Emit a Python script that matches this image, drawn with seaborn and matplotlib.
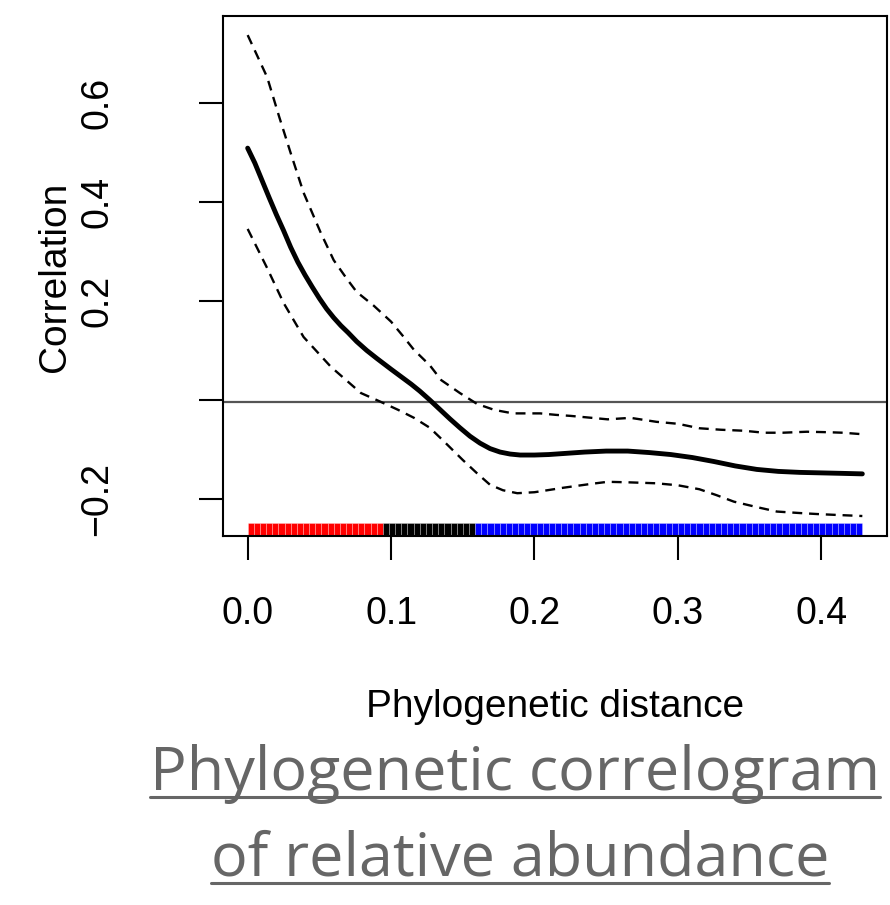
import numpy as np
import pandas as pd
import matplotlib
matplotlib.use("Agg")
import matplotlib.pyplot as plt
from matplotlib.lines import Line2D
import seaborn as sns

# ---------------- data ----------------
mean_x = [0, 0.005, 0.01, 0.015, 0.02, 0.025, 0.03, 0.035, 0.04, 0.045,
          0.05, 0.055, 0.06, 0.065, 0.07, 0.076, 0.083, 0.09, 0.1, 0.107,
          0.114, 0.12, 0.127, 0.134, 0.141, 0.148, 0.155, 0.162, 0.169, 0.176,
          0.183, 0.19, 0.2, 0.21, 0.22, 0.235, 0.25, 0.265, 0.28, 0.295,
          0.31, 0.325, 0.34, 0.355, 0.37, 0.385, 0.4, 0.415, 0.4286]
mean_y = [0.508, 0.478, 0.443, 0.408, 0.374, 0.342, 0.308, 0.278, 0.252, 0.228,
          0.205, 0.184, 0.166, 0.150, 0.136, 0.118, 0.100, 0.084, 0.062, 0.047,
          0.032, 0.018, 0.0, -0.019, -0.038, -0.056, -0.073, -0.087, -0.098, -0.105,
          -0.109, -0.111, -0.111, -0.110, -0.108, -0.105, -0.103, -0.103, -0.106, -0.110,
          -0.116, -0.124, -0.133, -0.140, -0.144, -0.146, -0.147, -0.148, -0.149]

upper_x = [0, 0.0136, 0.022, 0.030, 0.039, 0.051, 0.060, 0.069, 0.076, 0.088,
           0.100, 0.108, 0.116, 0.127, 0.135, 0.148, 0.160, 0.172, 0.185, 0.204,
           0.215, 0.225, 0.240, 0.251, 0.267, 0.285, 0.300, 0.315, 0.330, 0.346,
           0.360, 0.373, 0.390, 0.405, 0.415, 0.4286]
upper_y = [0.736, 0.651, 0.571, 0.498, 0.418, 0.337, 0.282, 0.245, 0.218, 0.19,
           0.158, 0.13, 0.101, 0.07, 0.04, 0.014, -0.008, -0.02, -0.027, -0.027,
           -0.030, -0.032, -0.036, -0.039, -0.036, -0.044, -0.048, -0.057, -0.060, -0.062,
           -0.066, -0.066, -0.064, -0.065, -0.066, -0.069]

lower_x = [0, 0.0136, 0.025, 0.039, 0.058, 0.079, 0.093, 0.105, 0.116, 0.127,
           0.136, 0.150, 0.160, 0.169, 0.178, 0.188, 0.200, 0.209, 0.220, 0.230,
           0.240, 0.251, 0.265, 0.285, 0.300, 0.315, 0.327, 0.339, 0.355, 0.369,
           0.385, 0.397, 0.412, 0.4286]
lower_y = [0.345, 0.266, 0.196, 0.127, 0.067, 0.014, -0.004, -0.02, -0.036, -0.056,
           -0.081, -0.121, -0.148, -0.171, -0.182, -0.188, -0.186, -0.182, -0.177, -0.173,
           -0.169, -0.165, -0.166, -0.168, -0.172, -0.180, -0.192, -0.205, -0.216, -0.225,
           -0.228, -0.230, -0.232, -0.234]

# significance classes along the distance axis (rug)
sig_breaks = [0.0, 0.0948, 0.1596, 0.4286]
sig_colors = ["#FF0000", "#000000", "#0000FF"]
n_rug_cells = 100

x_ticks = [0.0, 0.1, 0.2, 0.3, 0.4]
x_tick_labels = ["0.0", "0.1", "0.2", "0.3", "0.4"]
y_ticks = [-0.2, 0.0, 0.2, 0.4, 0.6]
y_tick_labels = ["\u22120.2", "", "0.2", "0.4", "0.6"]

x_label = "Phylogenetic distance"
y_label = "Correlation"
title_lines = ["Phylogenetic correlogram", "of relative abundance"]

# ---------------- plotting ----------------
sns.set_style("white")
plt.rcParams["font.family"] = ["Liberation Sans", "DejaVu Sans"]
plt.rcParams["text.color"] = "black"
plt.rcParams["xtick.color"] = "black"
plt.rcParams["ytick.color"] = "black"

W, H, DPI = 890, 905, 100
fig = plt.figure(figsize=(W / DPI, H / DPI), dpi=DPI)
ax = fig.add_axes([223 / W, 1 - 536 / H, (887 - 223) / W, (536 - 16) / H])

df_mean = pd.DataFrame({"x": mean_x, "y": mean_y})
df_up = pd.DataFrame({"x": upper_x, "y": upper_y})
df_lo = pd.DataFrame({"x": lower_x, "y": lower_y})

ax.axhline(-0.005, color="#555555", lw=1.6, zorder=1)

dash = (0, (4.2, 2.9))
sns.lineplot(data=df_up, x="x", y="y", ax=ax, color="black", lw=1.7,
             linestyle=dash, sort=False, zorder=3)
sns.lineplot(data=df_lo, x="x", y="y", ax=ax, color="black", lw=1.7,
             linestyle=dash, sort=False, zorder=3)
sns.lineplot(data=df_mean, x="x", y="y", ax=ax, color="black", lw=3.5,
             sort=False, zorder=4, solid_capstyle="round", solid_joinstyle="round")

ylo, yhi = -0.2743, 0.7745
ax.set_xlim(-0.0172, 0.4458)
ax.set_ylim(ylo, yhi)

# rug of significance
edges = np.linspace(sig_breaks[0], sig_breaks[-1], n_rug_cells + 1)
for i in range(n_rug_cells):
    mid = 0.5 * (edges[i] + edges[i + 1])
    ci = np.searchsorted(sig_breaks, mid) - 1
    ci = min(max(ci, 0), len(sig_colors) - 1)
    ax.bar(edges[i], 0.027, width=edges[i + 1] - edges[i], bottom=ylo,
           align="edge", color=sig_colors[ci], edgecolor=(1, 1, 1, 0.3),
           linewidth=0.6, zorder=2)

ax.set_xticks(x_ticks)
ax.set_xticklabels(x_tick_labels, fontsize=27)
ax.set_yticks(y_ticks)
ax.set_yticklabels(y_tick_labels, fontsize=27, rotation=90, va="center")
ax.tick_params(axis="both", which="major", bottom=True, left=True,
               direction="out", length=17.5, width=1.5, color="black")
ax.tick_params(axis="x", pad=26)
ax.tick_params(axis="y", pad=60)
for s in ax.spines.values():
    s.set_color("black")
    s.set_linewidth(1.5)

ax.set_xlabel("")
ax.set_ylabel("")
fig.text(555 / W, 1 - 707 / H, x_label, fontsize=28, ha="center", va="center")
fig.text(55 / W, 1 - 277 / H, y_label, fontsize=28, ha="center", va="center",
         rotation=90)

# title with underline
title_color = "#666666"
centers = [515, 520]
baselines = [790, 875]
underlines = [797, 883]
fig.canvas.draw()
renderer = fig.canvas.get_renderer()
for line, cx, bl, ul in zip(title_lines, centers, baselines, underlines):
    t = fig.text(cx / W, 1 - bl / H, line, fontsize=44, ha="center",
                 va="baseline", color=title_color, fontweight=500,
                 family=["Open Sans", "DejaVu Sans"])
    bb = t.get_window_extent(renderer=renderer)
    x0, x1 = bb.x0 / W, bb.x1 / W
    fig.add_artist(Line2D([x0, x1], [1 - ul / H, 1 - ul / H], color=title_color,
                          lw=2.2, transform=fig.transFigure, zorder=0))

fig.savefig("out.png", dpi=DPI)
